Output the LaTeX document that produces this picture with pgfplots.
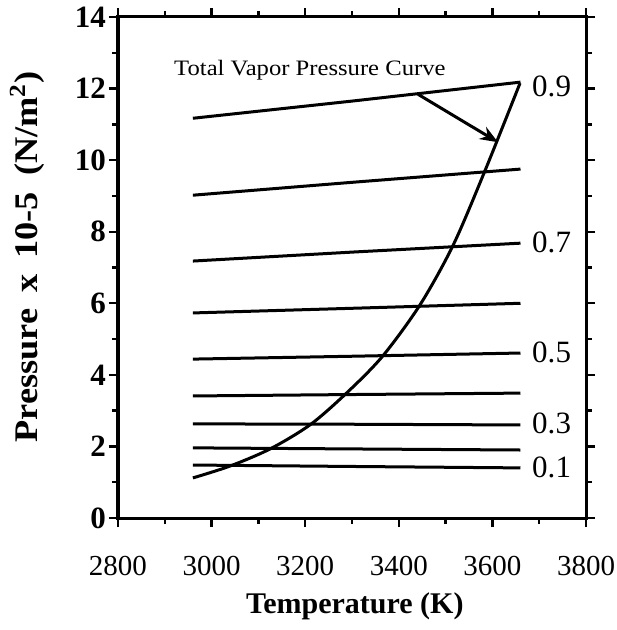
\documentclass[border=0pt]{standalone}
\usepackage{pgfplots}
\pgfplotsset{compat=1.18}
\usepackage{fontspec}
\setmainfont{Liberation Serif}
\newfontfamily\ylabfont[FakeStretch=1.1]{Liberation Serif}
\newfontfamily\notefont[FakeStretch=1.12]{Liberation Serif}
\usetikzlibrary{arrows.meta}
\begin{document}
\begin{tikzpicture}
\useasboundingbox (-59pt,-56pt) rectangle (249pt,259pt);
\begin{axis}[
  scale only axis, width=234pt, height=250.5pt,
  at={(0,0)}, anchor=south west,
  xmin=2800, xmax=3800, ymin=0, ymax=14,
  xtick={2800,3000,...,3800}, ytick={0,2,...,14},
  minor x tick num=1, minor y tick num=1,
  tick align=outside, major tick length=4.5pt, minor tick length=3pt,
  axis line style={line width=1.5pt},
  every tick/.style={line width=1.2pt, black},
  /pgf/number format/assume math mode=true,
  /pgf/number format/1000 sep={},
  xticklabel style={font=\fontsize{14.5}{16}\selectfont, yshift=-11pt},
  yticklabel style={font=\bfseries\fontsize{15.5}{17}\selectfont, xshift=2pt},
  xlabel={Temperature (K)},
  ylabel={Pressure\hspace{8pt}x\hspace{8pt}10-5\hspace{8pt}(N/m\textsuperscript{2})},
  xlabel style={font=\bfseries\fontsize{15}{17}\selectfont, at={(axis description cs:0.506,-0.176)}, anchor=center},
  ylabel style={font=\ylabfont\bfseries\fontsize{16.5}{18}\selectfont, at={(axis description cs:-0.194,0.521)}, anchor=center},
  clip=false,
]
% constant-fraction lines
\addplot[black, line width=1.5pt] coordinates {(2960,11.17) (3300,11.65) (3660,12.18)};
\addplot[black, line width=1.5pt] coordinates {(2960,9.02) (3300,9.38) (3660,9.75)};
\addplot[black, line width=1.5pt] coordinates {(2960,7.18) (3300,7.43) (3660,7.68)};
\addplot[black, line width=1.5pt] coordinates {(2960,5.73) (3300,5.86) (3660,6.00)};
\addplot[black, line width=1.5pt] coordinates {(2960,4.44) (3300,4.52) (3660,4.61)};
\addplot[black, line width=1.5pt] coordinates {(2960,3.41) (3300,3.45) (3660,3.49)};
\addplot[black, line width=1.5pt] coordinates {(2960,2.63) (3300,2.62) (3660,2.60)};
\addplot[black, line width=1.5pt] coordinates {(2960,1.96) (3300,1.93) (3660,1.90)};
\addplot[black, line width=1.5pt] coordinates {(2960,1.48) (3300,1.44) (3660,1.40)};
% total vapor pressure curve
\addplot[black, line width=1.5pt, smooth] coordinates {
  (2960,1.12) (3039,1.45) (3125,1.93) (3210,2.60) (3285,3.45)
  (3364,4.50) (3445,5.95) (3516,7.62) (3584,9.70) (3659,12.15)};
\draw[-{Stealth[length=9pt,width=7pt]}, line width=1.5pt]
  (axis cs:3441,11.84) -- (axis cs:3612,10.5);
\node[font=\notefont\fontsize{11}{12}\selectfont] at (axis cs:3210,12.5) {Total Vapor Pressure Curve};
\begin{scope}[every node/.style={anchor=west, font=\fontsize{15.5}{17}\selectfont, inner sep=1pt}]
\node at (axis cs:3680,12.05) {0.9};
\node at (axis cs:3680,7.7) {0.7};
\node at (axis cs:3680,4.64) {0.5};
\node at (axis cs:3680,2.63) {0.3};
\node at (axis cs:3680,1.42) {0.1};
\end{scope}
\end{axis}
\end{tikzpicture}
\end{document}
